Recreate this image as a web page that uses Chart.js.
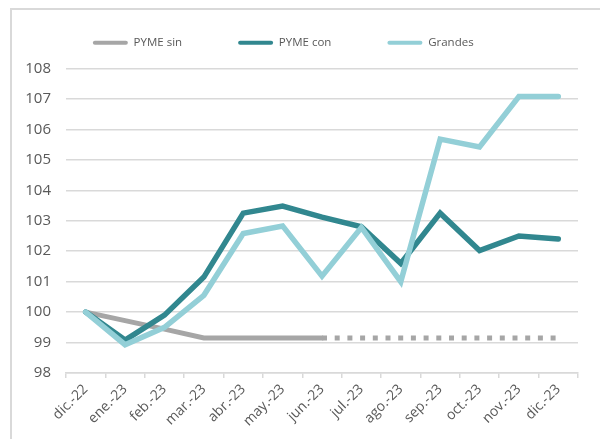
<!DOCTYPE html>
<html>
<head>
<meta charset="utf-8">
<script src="https://cdn.jsdelivr.net/npm/chart.js@4"></script>
<style>
  html, body { margin: 0; padding: 0; background: #fff; }
  #wrap { position: relative; width: 600px; height: 439px; overflow: hidden; }
  #frame { position: absolute; left: 10px; top: 8px; width: 620px; height: 460px; border: 2px solid #d9d9d9; box-sizing: border-box; }
  canvas { position: absolute; left: 0; top: 0; }
</style>
</head>
<body>
<div id="wrap">
  <div id="frame"></div>
  <canvas id="myChart" width="600" height="439"></canvas>
</div>
<script>
const months = ['dic.-22', 'ene.-23', 'feb.-23', 'mar.-23', 'abr.-23', 'may.-23', 'jun.-23',
  'jul.-23', 'ago.-23', 'sep.-23', 'oct.-23', 'nov.-23', 'dic.-23'];
const pymeSin = [100, 99.72, 99.44, 99.15, 99.15, 99.15, 99.15, 99.15, 99.15, 99.15, 99.15, 99.15, 99.15];
const pymeCon = [100, 99.08, 99.9, 101.15, 103.25, 103.48, 103.12, 102.8, 101.6, 103.25, 102.02, 102.5, 102.4];
const grandes = [100, 98.93, 99.5, 100.55, 102.58, 102.83, 101.18, 102.78, 101.0, 105.68, 105.42, 107.08, 107.08];
const yTicks = [98, 99, 100, 101, 102, 103, 104, 105, 106, 107, 108];
const lastSolid = 6; // pymeSin is dotted after jun.-23

const grey = '#a6a6a6';
const teal = '#31878f';
const light = '#93cfd7';
const textColor = '#595959';
const gridColor = '#d9d9d9';
const fontFamily = '"Open Sans", "DejaVu Sans", sans-serif';

const data = {
  labels: months,
  datasets: [
    {
      label: 'PYME sin',
      data: pymeSin,
      borderColor: grey,
      backgroundColor: grey,
      borderWidth: 5,
      pointRadius: 0,
      order: 2,
      segment: {
        borderDash: ctx => ctx.p0DataIndex >= lastSolid ? [5, 7.7] : undefined,
        borderCapStyle: ctx => ctx.p0DataIndex >= lastSolid ? 'butt' : 'round'
      }
    },
    {
      label: 'PYME con',
      data: pymeCon,
      borderColor: teal,
      backgroundColor: teal,
      borderWidth: 5.5,
      pointRadius: 0,
      borderCapStyle: 'round',
      order: 1
    },
    {
      label: 'Grandes',
      data: grandes,
      borderColor: light,
      backgroundColor: light,
      borderWidth: 5.5,
      pointRadius: 0,
      borderCapStyle: 'round',
      order: 0
    }
  ]
};

// extra space after legend text so items sit apart like the original
const legendGap = ['\u2003\u2003\u2003\u2003', '\u2003\u2003\u2003\u2003', '\u2003'];

const config = {
  type: 'line',
  data: data,
  options: {
    responsive: false,
    animation: false,
    layout: { padding: { top: 27, left: 0, right: 22, bottom: 0 } },
    scales: {
      x: {
        offset: true,
        grid: { display: true, drawOnChartArea: false, drawTicks: true, tickLength: 5, offset: true, color: gridColor, lineWidth: 1.5 },
        border: { display: true, color: gridColor, width: 1.5 },
        ticks: {
          color: textColor,
          font: { family: fontFamily, size: 14 },
          autoSkip: false,
          maxRotation: 45,
          minRotation: 45,
          padding: 3
        },
        afterFit: function(scale) { scale.height = 66; }
      },
      y: {
        min: 98,
        max: 108,
        afterBuildTicks: function(scale) { scale.ticks = yTicks.map(v => ({ value: v })); },
        grid: { color: gridColor, drawTicks: false, lineWidth: 1.5 },
        border: { display: false },
        ticks: {
          color: textColor,
          font: { family: fontFamily, size: 15 },
          padding: 15
        },
        afterFit: function(scale) { scale.width = 66; }
      }
    },
    plugins: {
      legend: {
        display: true,
        position: 'top',
        labels: {
          color: textColor,
          font: { family: fontFamily, size: 11.5 },
          boxWidth: 35,
          boxHeight: 4,
          useBorderRadius: true,
          borderRadius: 2,
          padding: 10,
          generateLabels: function(chart) {
            const items = Chart.defaults.plugins.legend.labels.generateLabels(chart);
            items.sort((a, b) => a.datasetIndex - b.datasetIndex);
            items.forEach(it => {
              it.text = it.text + legendGap[it.datasetIndex];
              it.lineWidth = 0;
            });
            return items;
          }
        }
      },
      tooltip: { enabled: false }
    }
  }
};

const myChart = new Chart(document.getElementById('myChart'), config);

// leave more room under the legend, as in the original
const legendFit = myChart.legend.fit;
myChart.legend.fit = function() {
  legendFit.call(this);
  this.height += 10;
};
myChart.update();
</script>
</body>
</html>
